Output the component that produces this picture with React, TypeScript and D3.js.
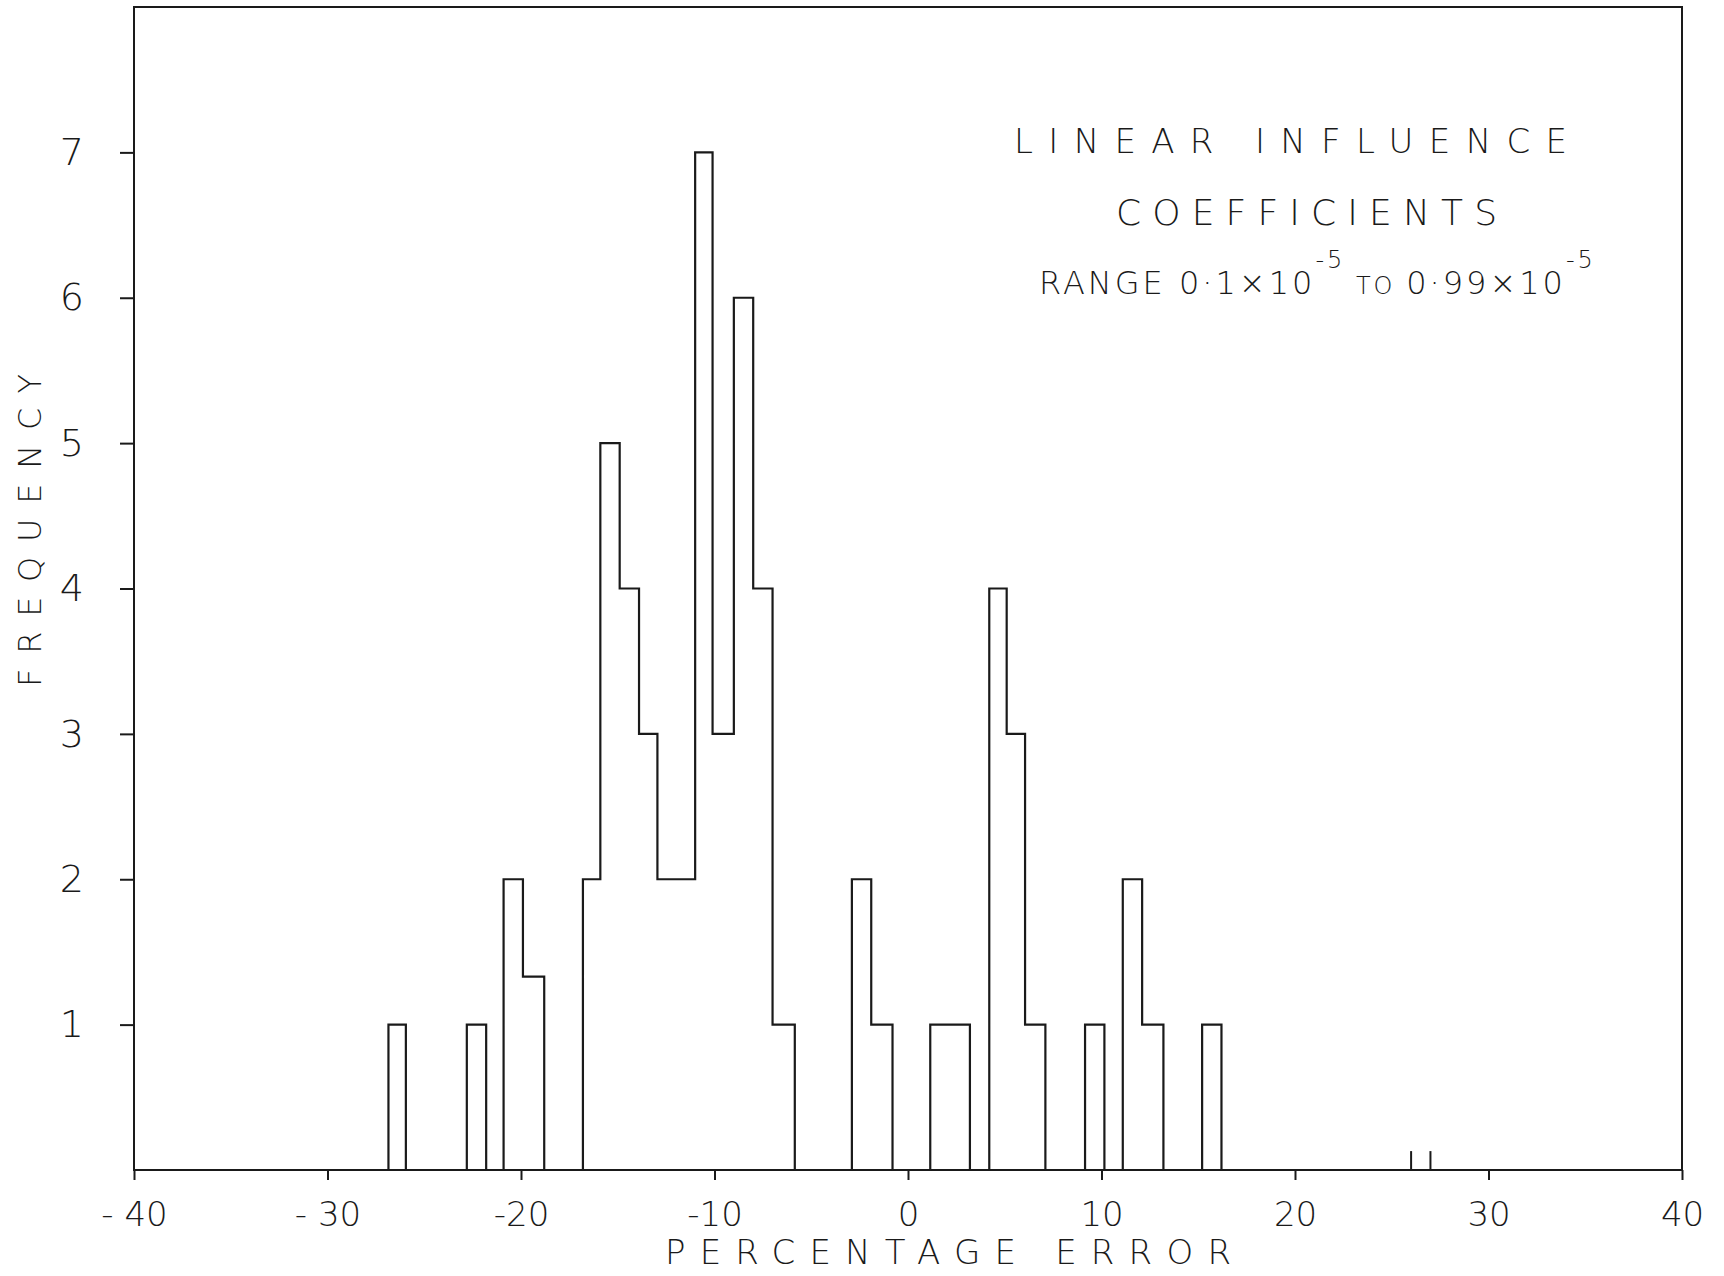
import React, { useEffect, useRef } from 'react';
import * as d3 from 'd3';

// histogram bin edges (percentage error) and frequency in each bin
const binEdges = [
  -26.85, -25.95, -22.8, -21.8, -20.9, -19.9, -18.8, -16.8, -15.9, -14.9, -13.9, -12.95,
  -11.0, -10.1, -9.0, -8.0, -7.0, -5.85, -2.9, -1.9, -0.8, 1.15, 3.2, 4.2, 5.1, 6.05,
  7.1, 9.15, 10.15, 11.1, 12.1, 13.2, 15.2, 16.2,
];
const frequencies = [
  1, 0, 1, 0, 2, 1.33, 0, 2, 5, 4, 3, 2, 7, 3, 6, 4, 1, 0, 2, 1, 0, 1, 0, 4, 3, 1, 0, 1, 0,
  2, 1, 0, 1,
];

// the two little strokes near +26 / +27
const tinyMarks = [26, 27];
const tinyMarkHeights = [0.13, 0.13];

const xTickValues = [-40, -30, -20, -10, 0, 10, 20, 30, 40];
const xTickLabels = ['- 40', '- 30', '-20', '-10', '0', '10', '20', '30', '40'];
const yTickValues = [1, 2, 3, 4, 5, 6, 7];
const yTickLabels = ['1', '2', '3', '4', '5', '6', '7'];

const FONT = "'DejaVu Sans', Lato, sans-serif";
const INK = '#1a1a1a';

function App() {
  const svgRef = useRef<SVGSVGElement>(null);

  useEffect(() => {
    const svg = d3.select(svgRef.current);
    svg.selectAll('*').remove();

    const width = 1724;
    const height = 1276;
    const margin = { top: 7, right: 42, bottom: 106, left: 134 };
    const innerWidth = width - margin.left - margin.right;
    const innerHeight = height - margin.top - margin.bottom;

    svg.attr('width', width).attr('height', height);

    const g = svg.append('g').attr('transform', `translate(${margin.left},${margin.top})`);

    const x = d3.scaleLinear().domain([-40, 40]).range([0, innerWidth]);
    const y = d3.scaleLinear().domain([0, 8]).range([innerHeight, 0]);

    // frame
    g.append('rect')
      .attr('x', 0)
      .attr('y', 0)
      .attr('width', innerWidth)
      .attr('height', innerHeight)
      .attr('fill', 'none')
      .attr('stroke', INK)
      .attr('stroke-width', 2);

    // y axis
    const yAxis = g.append('g')
      .call(
        d3.axisLeft(y)
          .tickValues(yTickValues)
          .tickSize(14)
          .tickPadding(36)
          .tickFormat((d, i) => yTickLabels[i])
      );
    yAxis.select('.domain').remove();
    yAxis.selectAll('line').attr('stroke', INK).attr('stroke-width', 2);
    yAxis.selectAll('text')
      .attr('font-family', FONT)
      .attr('font-weight', 200)
      .attr('font-size', 38)
      .attr('fill', INK);

    // x axis
    const xAxis = g.append('g')
      .attr('transform', `translate(0,${innerHeight})`)
      .call(
        d3.axisBottom(x)
          .tickValues(xTickValues)
          .tickSize(10)
          .tickPadding(22)
          .tickFormat((d, i) => xTickLabels[i])
      );
    xAxis.select('.domain').remove();
    xAxis.selectAll('line').attr('stroke', INK).attr('stroke-width', 2);
    xAxis.selectAll('text')
      .attr('font-family', FONT)
      .attr('font-weight', 200)
      .attr('font-size', 34)
      .attr('fill', INK);

    // histogram outline
    const pts: [number, number][] = [[binEdges[0], 0]];
    frequencies.forEach((f, i) => {
      pts.push([binEdges[i], f]);
      pts.push([binEdges[i + 1], f]);
    });
    pts.push([binEdges[binEdges.length - 1], 0]);

    const line = d3.line<[number, number]>()
      .x(d => x(d[0]))
      .y(d => y(d[1]));

    g.append('path')
      .datum(pts)
      .attr('d', line)
      .attr('fill', 'none')
      .attr('stroke', INK)
      .attr('stroke-width', 2.2)
      .attr('stroke-linejoin', 'miter');

    g.selectAll('.tiny')
      .data(tinyMarks)
      .enter()
      .append('line')
      .attr('class', 'tiny')
      .attr('x1', d => x(d))
      .attr('x2', d => x(d))
      .attr('y1', y(0))
      .attr('y2', (d, i) => y(tinyMarkHeights[i]))
      .attr('stroke', INK)
      .attr('stroke-width', 2);
  }, []);

  const txt = { fontFamily: FONT, fontWeight: 200, fill: INK } as const;

  return (
    <div style={{ position: 'absolute', left: 0, top: 0, background: '#fff' }}>
      <svg ref={svgRef} width={1724} height={1276} style={{ display: 'block' }} />
      <svg
        width={1724}
        height={1276}
        style={{ position: 'absolute', left: 0, top: 0, pointerEvents: 'none' }}
      >
        <text {...txt} x={1014} y={153} fontSize={34} textLength={553} lengthAdjust="spacing">
          LINEAR INFLUENCE
        </text>
        <text {...txt} x={1116} y={225} fontSize={36} textLength={381} lengthAdjust="spacing">
          COEFFICIENTS
        </text>
        <text {...txt} x={1039} y={294} fontSize={32} letterSpacing={3}>
          RANGE 0·1×10
          <tspan fontSize={24} dy={-26}>-5</tspan>
          <tspan dy={26} fontSize={24}> TO </tspan>
          <tspan fontSize={32}>0·99×10</tspan>
          <tspan fontSize={24} dy={-26}>-5</tspan>
        </text>
        <text {...txt} x={665} y={1264} fontSize={34} textLength={566} lengthAdjust="spacing">
          PERCENTAGE ERROR
        </text>
        <text
          {...txt}
          transform="translate(41,687) rotate(-90)"
          fontSize={32}
          textLength={313}
          lengthAdjust="spacing"
        >
          FREQUENCY
        </text>
      </svg>
    </div>
  );
}

export default App;
